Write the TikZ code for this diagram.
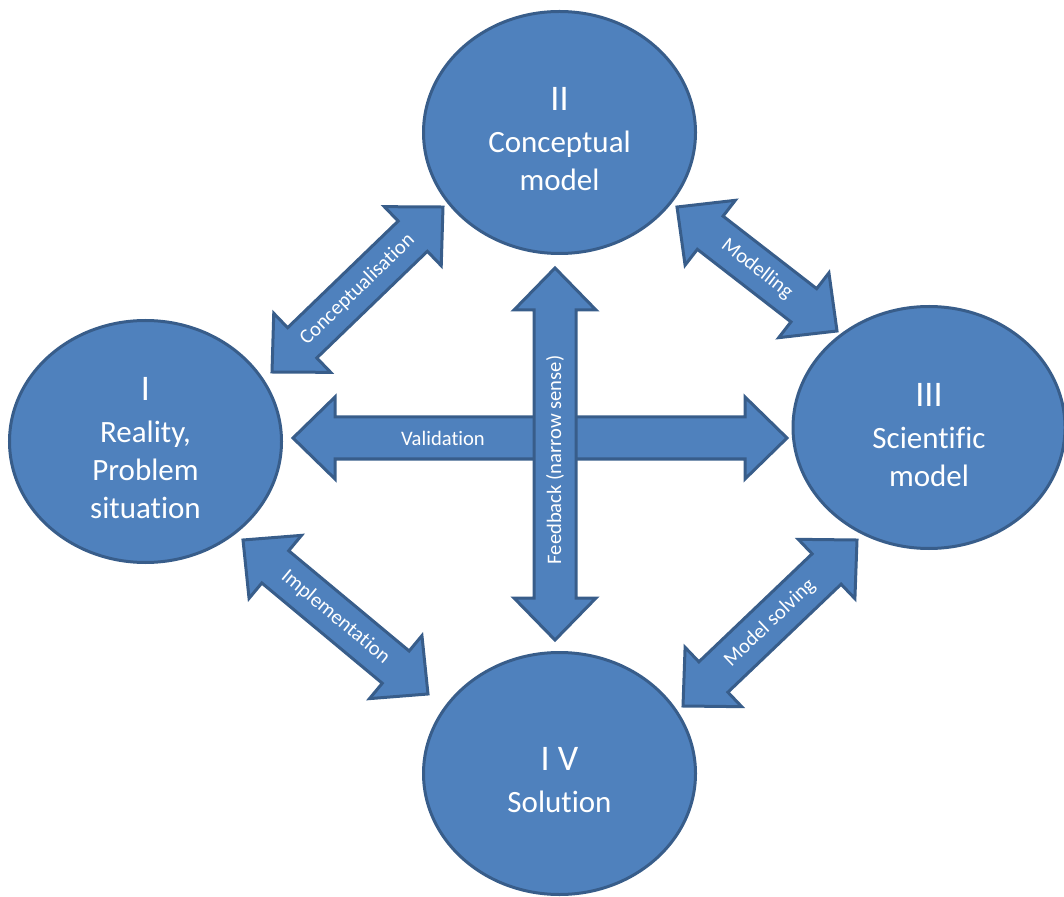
\documentclass[tikz,border=0pt]{standalone}
\usepackage{fontspec}
\setmainfont{Carlito}[Ligatures={NoCommon}]
\usetikzlibrary{shapes.geometric,calc}
\definecolor{officeblue}{HTML}{4F81BD}
\definecolor{officeedge}{HTML}{385D8A}
\newcommand\stagenum{\fontsize{18}{22}\selectfont}
% #1 name, #2 #3 start (px), #4 #5 end (px), #6 label, #7 label shift along arrow
\newcommand\blockarrow[7]{%
  \coordinate (#1-s) at (#2,#3);
  \coordinate (#1-e) at (#4,#5);
  \pgfmathsetmacro\BAang{atan2(#3-#5,#4-#2)}%
  \pgfmathsetmacro\BAlen{veclen(#4-#2,#5-#3)*0.5}%
  \pgfmathsetmacro\BAend{\BAlen-21}%
  \begin{scope}[shift={(#1-s)},rotate=\BAang]
    \draw[barrow] (0pt,0pt) -- (21pt,20.5pt) -- (21pt,10.5pt) -- (\BAend pt,10.5pt)
      -- (\BAend pt,20.5pt) -- (\BAlen pt,0pt) -- (\BAend pt,-20.5pt) -- (\BAend pt,-10.5pt)
      -- (21pt,-10.5pt) -- (21pt,-20.5pt) -- cycle;
  \end{scope}
  \coordinate (#1-m) at ($(#1-s)!0.5!(#1-e)$);
  \node[alabel, rotate=\BAang] (#1-l) at ($(#1-m)!#7!(#1-e)$) {#6};
}
\begin{document}
\begin{tikzpicture}[x=0.5pt,y=-0.5pt,
  stage/.style={ellipse, fill=officeblue, draw=officeedge, line width=1.5pt,
    minimum width=136pt, minimum height=121pt, inner sep=0pt},
  stagetext/.style={align=center, inner sep=0pt, text=white,
    font=\fontsize{15.5}{19}\selectfont},
  barrow/.style={fill=officeblue, draw=officeedge, line width=1.5pt, line join=miter},
  alabel/.style={text=white, inner sep=0pt, font=\fontsize{10.3}{12}\selectfont}]
\useasboundingbox (0,0) rectangle (1064,897);
\node[stage] (I)   at (145.5,441.5) {};
\node[stage] (II)  at (559.5,132.5) {};
\node[stage] (III) at (929,427.5)   {};
\node[stage] (IV)  at (559.5,773.5) {};
\node[stagetext] (I-t)   at ([yshift=-3.5pt]I.center)   {{\stagenum I}\\[2pt]Reality,\\Problem\\situation};
\node[stagetext] (II-t)  at ([yshift=-3.5pt]II.center)  {{\stagenum II}\\[2pt]Conceptual\\model};
\node[stagetext] (III-t) at ([yshift=-4pt]III.center)   {{\stagenum III}\\[2pt]Scientific\\model};
\node[stagetext] (IV-t)  at ([yshift=-3.5pt]IV.center)  {{\stagenum I V}\\[2pt]Solution};
\blockarrow{val}{293}{438}{787}{438}{Validation}{-48.5pt}
\blockarrow{feed}{555}{640}{555}{268}{Feedback (narrow sense)}{-3pt}
\blockarrow{conc}{272}{372}{443}{207}{Conceptualisation}{0pt}
\blockarrow{mod}{677}{207}{837}{331}{Modelling}{0pt}
\blockarrow{impl}{243}{540}{428}{694}{Implementation}{0pt}
\blockarrow{solv}{683}{706}{857}{540}{Model solving}{0pt}
\end{tikzpicture}
\end{document}
